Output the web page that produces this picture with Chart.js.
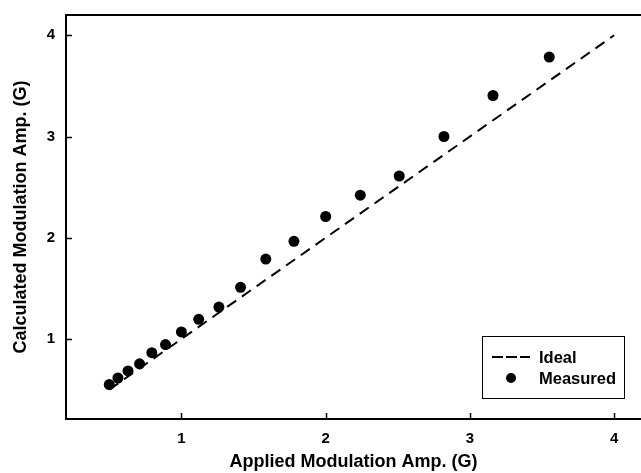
<!DOCTYPE html>
<html>
<head>
<meta charset="utf-8">
<script src="https://cdn.jsdelivr.net/npm/chart.js@4/dist/chart.umd.min.js"></script>
<style>
  body { margin: 0; background: #fff; }
  #wrap { width: 641px; height: 473px; }
</style>
</head>
<body>
<div id="wrap"><canvas id="myChart" width="641" height="473"></canvas></div>
<script>
// values
const appliedAmp = [0.50, 0.56, 0.63, 0.71, 0.795, 0.89, 1.00, 1.12, 1.26, 1.41, 1.585, 1.78, 2.00, 2.24, 2.51, 2.82, 3.16, 3.55];
const measuredAmp = [0.55, 0.615, 0.685, 0.755, 0.865, 0.945, 1.07, 1.195, 1.315, 1.51, 1.79, 1.965, 2.21, 2.42, 2.61, 3.00, 3.405, 3.785];
const idealX = [0.5, 4];
const idealY = [0.5, 4];
const tickValues = [1, 2, 3, 4];

const measuredPts = appliedAmp.map((x, i) => ({x: x, y: measuredAmp[i]}));
const idealPts = idealX.map((x, i) => ({x: x, y: idealY[i]}));

const boldFont = "'Liberation Sans', Arial, Helvetica, sans-serif";

// frame around plot + inward tick marks + legend box
const framePlugin = {
  id: 'frame',
  afterDatasetsDraw(chart) {
    const ctx = chart.ctx;
    const a = chart.chartArea;
    const xs = chart.scales.x, ys = chart.scales.y;
    ctx.save();
    ctx.strokeStyle = '#000';
    ctx.lineWidth = 2;
    // right side of the frame falls just outside the picture
    ctx.strokeRect(a.left, a.top, a.right - a.left + 4, a.bottom - a.top);
    ctx.lineWidth = 1.5;
    tickValues.forEach(v => {
      const px = Math.round(xs.getPixelForValue(v)) + 0.5;
      ctx.beginPath(); ctx.moveTo(px, a.bottom); ctx.lineTo(px, a.bottom - 6); ctx.stroke();
      const py = Math.round(ys.getPixelForValue(v)) + 0.5;
      ctx.beginPath(); ctx.moveTo(a.left, py); ctx.lineTo(a.left + 6, py); ctx.stroke();
    });

    // legend
    const lx = 482, ly = 336, lw = 142, lh = 62;
    ctx.lineWidth = 1;
    ctx.fillStyle = '#fff';
    ctx.fillRect(lx, ly, lw, lh);
    ctx.strokeRect(lx + 0.5, ly + 0.5, lw, lh);
    const ds = chart.data.datasets;
    ctx.font = "bold 16.5px " + boldFont;
    ctx.fillStyle = '#000';
    ctx.textBaseline = 'middle';
    // Ideal
    ctx.lineWidth = 2;
    ctx.setLineDash([11, 3]);
    ctx.beginPath(); ctx.moveTo(492, 357); ctx.lineTo(530, 357); ctx.stroke();
    ctx.setLineDash([]);
    ctx.fillText(ds[0].label, 539, 358);
    // Measured
    ctx.beginPath(); ctx.arc(511, 378, 5, 0, Math.PI * 2); ctx.fill();
    ctx.fillText(ds[1].label, 539, 379);
    ctx.restore();
  }
};

const ctx = document.getElementById('myChart').getContext('2d');
const myChart = new Chart(ctx, {
  type: 'scatter',
  data: {
    datasets: [{
      label: 'Ideal',
      data: idealPts,
      showLine: true,
      borderColor: '#000',
      borderWidth: 2,
      borderDash: [11, 7],
      pointRadius: 0,
      fill: false
    }, {
      label: 'Measured',
      data: measuredPts,
      showLine: false,
      pointRadius: 5.5,
      pointBackgroundColor: '#000',
      pointBorderColor: '#000',
      pointBorderWidth: 0
    }]
  },
  options: {
    responsive: false,
    animation: false,
    layout: { autoPadding: false, padding: { top: 15, right: 0, left: 0, bottom: 0 } },
    plugins: {
      legend: { display: false },
      tooltip: { enabled: false }
    },
    scales: {
      x: {
        type: 'linear',
        min: 0.2,
        max: 4.186,
        afterBuildTicks: s => { s.ticks = tickValues.map(v => ({value: v})); },
        afterFit: s => { s.height = 54; s.paddingLeft = 0; s.paddingRight = 0; },
        grid: { drawOnChartArea: false, drawTicks: false },
        border: { display: true, color: '#000', width: 2 },
        ticks: { color: '#000', padding: 11, font: { family: boldFont, size: 15, weight: 'bold' } },
        title: {
          display: true,
          text: 'Applied Modulation Amp. (G)',
          color: '#000',
          font: { family: boldFont, size: 18, weight: 'bold' },
          padding: { top: 0, bottom: 0 }
        }
      },
      y: {
        type: 'linear',
        min: 0.21,
        max: 4.2,
        afterBuildTicks: s => { s.ticks = tickValues.map(v => ({value: v})); },
        afterFit: s => { s.width = 66; s.paddingTop = 0; s.paddingBottom = 0; },
        grid: { drawOnChartArea: false, drawTicks: false },
        border: { display: true, color: '#000', width: 2 },
        ticks: { color: '#000', padding: 11, font: { family: boldFont, size: 15, weight: 'bold' } },
        title: {
          display: true,
          text: 'Calculated Modulation Amp. (G)',
          color: '#000',
          font: { family: boldFont, size: 18, weight: 'bold' },
          padding: { top: 10, bottom: 0 }
        }
      }
    }
  },
  plugins: [framePlugin]
});
</script>
</body>
</html>
